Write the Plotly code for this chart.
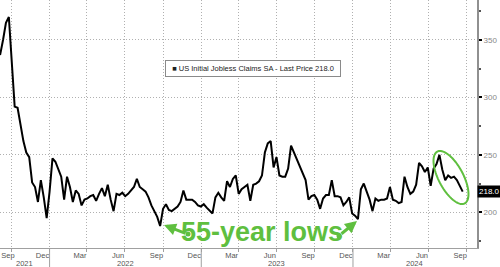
import numpy as np
import pandas as pd
import plotly.graph_objects as go

# ---------------- data ----------------
dates = pd.date_range("2021-08-28", "2024-09-21", freq="7D")

claims_2021 = [342, 337, 350, 365, 370, 326, 292, 291, 277, 262, 252, 248, 226, 222,
               209, 228, 213, 195]
claims_2022 = [218, 247, 244, 238, 231, 211, 231, 222, 209, 219, 216, 206, 211,
               212, 214, 215, 210, 216, 221, 214, 224, 211, 201, 216, 215, 217,
               214, 216, 219, 222, 229, 222, 220, 218, 213, 206, 201, 196, 188,
               203, 207, 202, 201, 203, 205, 209, 219, 211, 211, 211, 209, 206, 205]
claims_2023 = [207, 204, 201, 199, 213, 217, 213, 210, 227, 222, 229, 232,
               216, 220, 222, 224, 210, 224, 225, 227, 232, 252, 260, 262, 239,
               248, 232, 231, 231, 238, 258, 252, 246, 240, 235, 228, 211, 214, 215,
               211, 203, 212, 215, 215, 228, 214, 214, 213, 206, 209, 213, 199]
claims_2024 = [197, 194, 220, 225, 218, 211, 201, 212, 210, 211, 211, 212, 222,
               211, 210, 208, 209, 231, 222, 216, 218, 224, 243, 240, 235, 239,
               223, 238, 242, 250, 237, 228, 232, 230, 231, 228, 223, 218]
claims = claims_2021 + claims_2022 + claims_2023 + claims_2024

month_tick_dates = ["2021-09-23", "2021-12-15", "2022-03-15", "2022-06-15", "2022-09-15",
                    "2022-12-15", "2023-03-15", "2023-06-15", "2023-09-15", "2023-12-15",
                    "2024-03-15", "2024-06-15", "2024-09-15"]
month_tick_text = ["Sep", "Dec", "Mar", "Jun", "Sep", "Dec", "Mar", "Jun", "Sep", "Dec",
                   "Mar", "Jun", "Sep"]
quarter_starts = ["2021-10-01", "2022-01-01", "2022-04-01", "2022-07-01", "2022-10-01",
                  "2023-01-01", "2023-04-01", "2023-07-01", "2023-10-01", "2024-01-01",
                  "2024-04-01", "2024-07-01", "2024-10-01"]
year_text = ["2021", "2022", "2023", "2024"]
year_label_dates = ["2021-11-02", "2022-07-02", "2023-07-02", "2024-05-29"]
year_breaks = ["2022-01-01", "2023-01-01", "2024-01-01"]
y_ticks = [200, 250, 300, 350]

series_name = "US Initial Jobless Claims SA - Last Price"
last_value = claims[-1]

GREEN = "#5fbf3f"
GRID = "#b0b0b0"
DOTS = "1px,2px"
W, H = 500, 267
ML, MR, MT, MB = 0, 23, 0, 19
PW, PH = W - ML - MR, H - MT - MB


def px_to_paper(px, py):
    return (px - ML) / PW, 1 - (py - MT) / PH


fig = go.Figure()
fig.add_trace(go.Scatter(x=dates, y=claims, mode="lines",
                         line=dict(color="black", width=2),
                         name=series_name, showlegend=False))

# year separators
for d in year_breaks:
    fig.add_shape(type="line", xref="x", yref="paper", x0=d, x1=d, y0=0, y1=-MB / PH,
                  line=dict(color="#a0a0a0", width=1))

# ellipse around recent data
cx, cy, a, b, th = 451, 177.5, 29.3, 12.3, np.deg2rad(27.9)
t = np.linspace(0, 2 * np.pi, 80)
u = np.array([np.sin(th), np.cos(th)])
v = np.array([np.cos(th), -np.sin(th)])
pts = [px_to_paper(cx + a * np.cos(s) * u[0] + b * np.sin(s) * v[0],
                   cy + a * np.cos(s) * u[1] + b * np.sin(s) * v[1]) for s in t]
path = "M " + " L ".join(f"{p[0]:.5f},{p[1]:.5f}" for p in pts) + " Z"
fig.add_shape(type="path", xref="paper", yref="paper", path=path,
              line=dict(color=GREEN, width=2))

# arrow tail blobs
for bx, by in [(188, 234), (339, 236)]:
    x0, y0 = px_to_paper(bx - 2.5, by - 2.5)
    x1, y1 = px_to_paper(bx + 2.5, by + 2.5)
    fig.add_shape(type="circle", xref="paper", yref="paper", x0=x0, y0=y0, x1=x1, y1=y1,
                  fillcolor=GREEN, line=dict(color=GREEN, width=0))

annotations = []
# legend box
lx, ly = px_to_paper(253, 68.5)
annotations.append(dict(xref="paper", yref="paper", x=lx, y=ly, xanchor="center", yanchor="middle",
                        text=f"■ {series_name} {last_value:.1f}", showarrow=False,
                        font=dict(family="Liberation Sans, Arial", size=7.5, color="#222"),
                        bgcolor="white", bordercolor="#8a8a8a", borderwidth=1,
                        width=170, height=11, borderpad=2))
# last price tag
annotations.append(dict(xref="paper", yref="y", x=1, y=last_value, xanchor="left",
                        yanchor="middle", text=f"{last_value:.1f}", showarrow=False,
                        font=dict(family="Liberation Sans, Arial", size=8, color="white"),
                        bgcolor="black", borderpad=1))
# year labels
for d, txt in zip(year_label_dates, year_text):
    annotations.append(dict(xref="x", yref="paper", x=d, y=-(263.5 - PH) / PH,
                            text=txt, showarrow=False, yanchor="middle",
                            font=dict(family="Liberation Sans, Arial", size=7.5, color="#555")))
# big text
tx, ty = px_to_paper(262, 232)
annotations.append(dict(xref="paper", yref="paper", x=tx, y=ty, xanchor="center", yanchor="middle",
                        text="<b>55-year lows</b>", showarrow=False,
                        font=dict(family="Liberation Sans Narrow, Arial Narrow, Liberation Sans",
                                  size=27, color=GREEN)))
# arrows
for tip, tail in [((164, 225), (187, 234)), ((357, 221), (340, 235))]:
    hx, hy = px_to_paper(*tip)
    annotations.append(dict(xref="paper", yref="paper", x=hx, y=hy, ax=tail[0] - tip[0],
                            ay=tail[1] - tip[1], showarrow=True, arrowhead=2, arrowsize=0.8,
                            arrowwidth=3, arrowcolor=GREEN, text="", standoff=0))

fig.update_layout(
    width=W, height=H, margin=dict(l=ML, r=MR, t=MT, b=MB),
    paper_bgcolor="white", plot_bgcolor="white",
    annotations=annotations,
    xaxis=dict(range=["2021-09-03 17:00", "2024-10-25 10:00"],
               tickmode="array", tickvals=month_tick_dates, ticktext=month_tick_text,
               tickfont=dict(family="Liberation Sans, Arial", size=7.5, color="#555"),
               ticks="", showgrid=False, showline=True, linecolor="#a0a0a0", linewidth=1,
               zeroline=False,
               minor=dict(tickmode="array", tickvals=quarter_starts, showgrid=True,
                          gridcolor=GRID, griddash=DOTS, gridwidth=1,
                          ticks="outside", ticklen=3, tickcolor="#a0a0a0")),
    yaxis=dict(range=[168.9, 384.8], side="right", tickmode="array", tickvals=y_ticks,
               tickfont=dict(family="Liberation Sans, Arial", size=8, color="#888"),
               showgrid=True, gridcolor=GRID, griddash=DOTS, gridwidth=1,
               showline=True, linecolor="#909090", linewidth=2, zeroline=False,
               ticks="outside", ticklen=3, tickwidth=2, tickcolor="black",
               minor=dict(dtick=25, ticks="outside", ticklen=2, tickcolor="#555")),
)

fig.write_html("out.html")
